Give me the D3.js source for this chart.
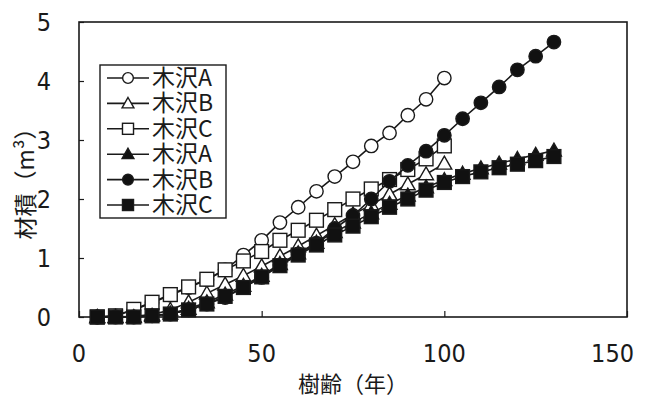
<!DOCTYPE html>
<html><head><meta charset="utf-8">
<script src="https://cdn.jsdelivr.net/npm/d3@7"></script>
<style>
html,body{margin:0;padding:0;background:#fff;}
svg{display:block;}
</style></head>
<body>
<svg id="chart" width="645" height="401"></svg>
<script>
// ---- data ----
const agesShort = [5,10,15,20,25,30,35,40,45,50,55,60,65,70,75,80,85,90,95,100];
const agesLong  = [5,10,15,20,25,30,35,40,45,50,55,60,65,70,75,80,85,90,95,100,105,110,115,120,125,130];
const seriesNames = ["木沢A","木沢B","木沢C","木沢A","木沢B","木沢C"];
const openA   = [0,0.02,0.12,0.24,0.37,0.5,0.63,0.8,1.05,1.3,1.6,1.86,2.13,2.38,2.63,2.9,3.12,3.42,3.69,4.05];
const openB   = [0,0,0.01,0.04,0.12,0.25,0.4,0.55,0.7,0.86,1.03,1.2,1.38,1.56,1.74,1.9,2.08,2.25,2.42,2.6];
const openC   = [0,0.02,0.13,0.25,0.38,0.51,0.64,0.8,0.95,1.11,1.3,1.47,1.64,1.82,2.0,2.17,2.33,2.5,2.68,2.9];
const filledA = [0,0,0,0.02,0.06,0.14,0.25,0.38,0.53,0.7,0.9,1.08,1.26,1.44,1.6,1.76,1.92,2.06,2.2,2.32,2.43,2.52,2.6,2.68,2.75,2.82];
const filledB = [0,0,0,0.02,0.05,0.12,0.22,0.33,0.5,0.67,0.88,1.07,1.25,1.5,1.72,2.0,2.3,2.57,2.81,3.08,3.36,3.63,3.9,4.19,4.42,4.66];
const filledC = [0,0,0,0.02,0.05,0.12,0.22,0.35,0.5,0.68,0.87,1.05,1.22,1.39,1.54,1.7,1.86,2.0,2.15,2.28,2.38,2.46,2.53,2.59,2.65,2.72];
const xTicks = [0,50,100,150];
const yTicks = [0,1,2,3,4,5];
const xTitle = "樹齢（年）";
const yTitle = "材積（m³）";

const series = [
  {name:seriesNames[0], ages:agesShort, vals:openA,   shape:"circle",   fill:"#fff"},
  {name:seriesNames[1], ages:agesShort, vals:openB,   shape:"triangle", fill:"#fff"},
  {name:seriesNames[2], ages:agesShort, vals:openC,   shape:"square",   fill:"#fff"},
  {name:seriesNames[3], ages:agesLong,  vals:filledA, shape:"triangle", fill:"#111"},
  {name:seriesNames[4], ages:agesLong,  vals:filledB, shape:"circle",   fill:"#111"},
  {name:seriesNames[5], ages:agesLong,  vals:filledC, shape:"square",   fill:"#111"}
];

// ---- layout ----
const L = 79, R = 627, T = 22, B = 317;
const svg = d3.select("#chart");
const x = d3.scaleLinear().domain([0,150]).range([L,R]);
const y = d3.scaleLinear().domain([0,5]).range([B,T]);
const ink = "#1a1a1a";
const numFont = "'Liberation Sans Narrow','DejaVu Sans Condensed','Liberation Sans',sans-serif";
const cjkFont = "'Noto Sans CJK JP','Noto Sans',sans-serif";

// frame
svg.append("rect").attr("x",L).attr("y",T).attr("width",R-L).attr("height",B-T)
  .attr("fill","none").attr("stroke",ink).attr("stroke-width",1.6);

// axes (inward ticks)
const xAxis = d3.axisTop(x).tickValues(xTicks).tickSize(6).tickFormat("");
svg.append("g").attr("transform",`translate(0,${B})`).call(xAxis)
  .call(g=>g.select(".domain").remove())
  .call(g=>g.selectAll("line").attr("stroke",ink).attr("stroke-width",1.2));
const yAxis = d3.axisRight(y).tickValues(yTicks).tickSize(5).tickFormat("");
svg.append("g").attr("transform",`translate(${L},0)`).call(yAxis)
  .call(g=>g.select(".domain").remove())
  .call(g=>g.selectAll("line").attr("stroke",ink).attr("stroke-width",1.2));

// tick labels
svg.append("g").selectAll("text").data(xTicks).join("text")
  .attr("x",(d,i)=> i===xTicks.length-1 ? 634 : x(d))
  .attr("y",362)
  .attr("text-anchor",(d,i)=> i===xTicks.length-1 ? "end" : "middle")
  .attr("font-family",numFont).attr("font-size",25).attr("fill",ink).text(d=>d);
svg.append("g").selectAll("text").data(yTicks).join("text")
  .attr("x",51).attr("y",d=>y(d)+9).attr("text-anchor","end")
  .attr("font-family",numFont).attr("font-size",25).attr("fill",ink).text(d=>d);

// axis titles
svg.append("text").attr("x",353).attr("y",392).attr("text-anchor","middle")
  .attr("font-family",cjkFont).attr("font-size",22).attr("fill",ink).text(xTitle);
svg.append("text").attr("transform","translate(34,178) rotate(-90)").attr("text-anchor","middle")
  .attr("font-family",cjkFont).attr("font-size",23).attr("fill",ink).text(yTitle);

// markers
function marker(g, shape, fill, cx, cy, scale){
  const s = scale||1;
  let p;
  if(shape==="circle"){
    p = g.append("circle").attr("cx",cx).attr("cy",cy).attr("r",6.7*s);
  } else if(shape==="square"){
    const h = 6.9*s;
    p = g.append("rect").attr("x",cx-h).attr("y",cy-h).attr("width",2*h).attr("height",2*h);
  } else {
    const h = 7.4*s;
    p = g.append("path").attr("d",`M${cx},${cy-h}L${cx+h},${cy+h*0.75}L${cx-h},${cy+h*0.75}Z`);
  }
  p.attr("fill",fill).attr("stroke",ink).attr("stroke-width",1.4);
}

const line = d3.line().x(d=>x(d[0])).y(d=>y(d[1]));
series.forEach(s=>{
  const g = svg.append("g");
  const pts = s.ages.map((a,i)=>[a,s.vals[i]]);
  g.append("path").attr("d",line(pts)).attr("fill","none").attr("stroke",ink).attr("stroke-width",1.6);
  pts.forEach(p=>marker(g,s.shape,s.fill,x(p[0]),y(p[1]),1));
});

// legend
const lg = svg.append("g");
lg.append("rect").attr("x",100).attr("y",65).attr("width",126).attr("height",153)
  .attr("fill","#fff").attr("stroke",ink).attr("stroke-width",1.4);
const rowY = d3.scaleLinear().domain([0,5]).range([78,205]);
series.forEach((s,i)=>{
  const yy = rowY(i);
  lg.append("line").attr("x1",107).attr("x2",149).attr("y1",yy).attr("y2",yy)
    .attr("stroke",ink).attr("stroke-width",1.6);
  marker(lg,s.shape,s.fill,128,yy,0.8);
  lg.append("text").attr("x",152).attr("y",yy+8).attr("font-family",cjkFont)
    .attr("font-size",23).attr("fill",ink).text(s.name);
});
</script>
</body></html>
